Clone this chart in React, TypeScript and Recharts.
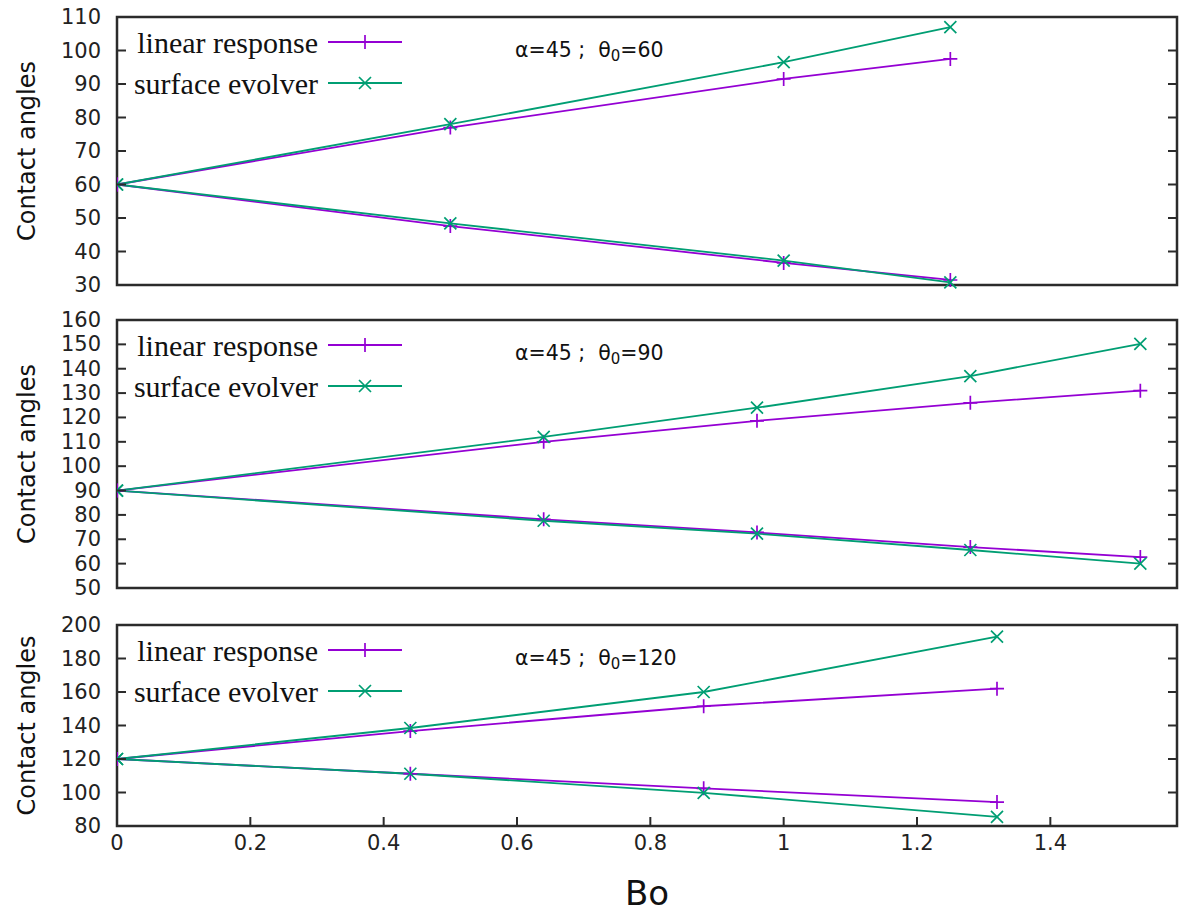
import { LineChart, Line, XAxis, YAxis, ReferenceArea, Legend } from 'recharts'

const PURPLE = '#9400d3'
const GREEN = '#009e73'
const AXIS = '#2b2b2b'
const TICK_FONT = '"DejaVu Sans", sans-serif'
const KEY_FONT = '"Liberation Serif", serif'

const W = 1179
const PLOT_L = 117
const PLOT_R = 1177
const XMAX = 1.59

// Bo axis
const boTicks = [0, 0.2, 0.4, 0.6, 0.8, 1, 1.2, 1.4]
const keyNames = ['linear response', 'surface evolver']

// theta0 = 60
const bo60 = [0, 0.5, 1.0, 1.25]
const lrUp60 = [60, 77, 91.5, 97.5]
const seUp60 = [60, 78, 96.5, 107]
const lrLo60 = [60, 47.6, 36.6, 31.5]
const seLo60 = [60, 48.4, 37.3, 30.8]
const ticks60 = [30, 40, 50, 60, 70, 80, 90, 100, 110]

// theta0 = 90
const bo90 = [0, 0.64, 0.96, 1.28, 1.535]
const lrUp90 = [90, 110, 118.6, 126, 131]
const seUp90 = [90, 112, 124, 137, 150.2]
const lrLo90 = [90, 78.2, 72.8, 66.8, 62.7]
const seLo90 = [90, 77.6, 72.3, 65.6, 60]
const ticks90 = [50, 60, 70, 80, 90, 100, 110, 120, 130, 140, 150, 160]

// theta0 = 120
const bo120 = [0, 0.44, 0.88, 1.32]
const lrUp120 = [120, 136.7, 151.5, 162]
const seUp120 = [120, 138.5, 160, 193]
const lrLo120 = [120, 111.2, 102.5, 94.3]
const seLo120 = [120, 111.2, 99.8, 85.5]
const ticks120 = [80, 100, 120, 140, 160, 180, 200]

const pts = (xs: number[], ys: number[]) => xs.map((x, i) => ({ x, y: ys[i] }))

const plusDot = (color: string) => (p: any) => {
  const { cx, cy, index } = p
  if (cx == null || cy == null) return <g key={index} />
  return (
    <path
      key={index}
      d={`M${cx - 7},${cy}H${cx + 7}M${cx},${cy - 7}V${cy + 7}`}
      stroke={color}
      strokeWidth={1.7}
      fill="none"
    />
  )
}

const crossDot = (color: string) => (p: any) => {
  const { cx, cy, index } = p
  if (cx == null || cy == null) return <g key={index} />
  return (
    <path
      key={index}
      d={`M${cx - 6},${cy - 6}L${cx + 6},${cy + 6}M${cx - 6},${cy + 6}L${cx + 6},${cy - 6}`}
      stroke={color}
      strokeWidth={1.7}
      fill="none"
    />
  )
}

interface PanelProps {
  top: number
  height: number
  marginTop: number
  marginBottom: number
  bo: number[]
  lrUp: number[]
  seUp: number[]
  lrLo: number[]
  seLo: number[]
  yTicks: number[]
  theta: string
  showX?: boolean
}

function Panel({ top, height, marginTop, marginBottom, bo, lrUp, seUp, lrLo, seLo, yTicks, theta, showX }: PanelProps) {
  const ymin = yTicks[0]
  const ymax = yTicks[yTicks.length - 1]
  const xAxisH = showX ? 85 : 0
  const plotBottom = height - marginBottom - xAxisH

  const yTick = (p: any) => {
    const { y, payload } = p
    return (
      <g>
        <line x1={PLOT_L} x2={PLOT_L + 9} y1={y} y2={y} stroke={AXIS} strokeWidth={2} />
        <line x1={PLOT_R - 9} x2={PLOT_R} y1={y} y2={y} stroke={AXIS} strokeWidth={2} />
        <text x={PLOT_L - 16} y={y} textAnchor="end" dominantBaseline="central" fontSize={21} fontFamily={TICK_FONT} fill="#222">
          {payload.value}
        </text>
      </g>
    )
  }

  const xTick = (p: any) => {
    const { x, payload } = p
    return (
      <g>
        <line x1={x} x2={x} y1={plotBottom} y2={plotBottom - 9} stroke={AXIS} strokeWidth={2} />
        <text x={x} y={plotBottom + 17} textAnchor="middle" dominantBaseline="central" fontSize={21} fontFamily={TICK_FONT} fill="#222">
          {payload.value}
        </text>
      </g>
    )
  }

  const renderKey = (props: any) => {
    const rows = ((props.payload || []) as any[]).filter((r) => keyNames.includes(r.value))
    return (
      <svg width={420} height={90} style={{ display: 'block' }}>
        {rows.map((r, i) => {
          const cy = 25 + i * 41
          const dot = r.value === keyNames[0] ? plusDot(r.color) : crossDot(r.color)
          return (
            <g key={r.value}>
              <text x={318} y={cy} textAnchor="end" dominantBaseline="central" fontSize={30} fontFamily={KEY_FONT} fill="#111">
                {r.value}
              </text>
              <line x1={328} x2={402} y1={cy} y2={cy} stroke={r.color} strokeWidth={1.8} />
              {dot({ cx: 365, cy, index: i })}
            </g>
          )
        })}
      </svg>
    )
  }

  return (
    <div style={{ position: 'absolute', left: 0, top, width: W, height }}>
      <LineChart width={W} height={height} margin={{ top: marginTop, right: W - PLOT_R, bottom: marginBottom, left: 0 }}>
        <XAxis
          type="number"
          dataKey="x"
          domain={[0, XMAX]}
          ticks={boTicks}
          allowDataOverflow
          hide={!showX}
          height={xAxisH}
          axisLine={false}
          tickLine={false}
          tick={xTick}
          label={{
            content: (lp: any) => {
              const vb = lp.viewBox || {}
              return (
                <text x={vb.x + vb.width / 2} y={plotBottom + 67} textAnchor="middle" dominantBaseline="central" fontSize={34} fontFamily={TICK_FONT} fill="#111">
                  Bo
                </text>
              )
            },
          }}
        />
        <YAxis
          type="number"
          domain={[ymin, ymax]}
          ticks={yTicks}
          width={PLOT_L}
          axisLine={false}
          tickLine={false}
          tick={yTick}
          label={{
            content: (lp: any) => {
              const vb = lp.viewBox || {}
              const cy = vb.y + vb.height / 2
              return (
                <text x={27} y={cy} transform={`rotate(-90 27 ${cy})`} textAnchor="middle" dominantBaseline="central" fontSize={24} fontFamily={TICK_FONT} fill="#111">
                  Contact angles
                </text>
              )
            },
          }}
        />
        <ReferenceArea x1={0} x2={XMAX} y1={ymin} y2={ymax} fill="none" stroke={AXIS} strokeWidth={2.5} ifOverflow="visible" />
        <Legend
          layout="horizontal"
          verticalAlign="middle"
          align="center"
          content={renderKey}
          wrapperStyle={{ left: 0, top: marginTop, width: 420, height: 90 }}
        />
        <Line data={pts(bo, lrLo)} dataKey="y" name="lr-low" legendType="none" stroke={PURPLE} strokeWidth={1.8} dot={plusDot(PURPLE)} isAnimationActive={false} />
        <Line data={pts(bo, seLo)} dataKey="y" name="se-low" legendType="none" stroke={GREEN} strokeWidth={1.8} dot={crossDot(GREEN)} isAnimationActive={false} />
        <Line data={pts(bo, lrUp)} dataKey="y" name="linear response" stroke={PURPLE} strokeWidth={1.8} dot={plusDot(PURPLE)} isAnimationActive={false} />
        <Line data={pts(bo, seUp)} dataKey="y" name="surface evolver" stroke={GREEN} strokeWidth={1.8} dot={crossDot(GREEN)} isAnimationActive={false} />
        <text x={515} y={marginTop + 33} dominantBaseline="central" fontSize={20.5} fontFamily={TICK_FONT} fill="#111" style={{ whiteSpace: 'pre' }}>
          {'α=45 ;  θ'}
          <tspan dy={6} fontSize={15}>0</tspan>
          <tspan dy={-6}>{'=' + theta}</tspan>
        </text>
      </LineChart>
    </div>
  )
}

export default function App() {
  return (
    <div style={{ position: 'absolute', left: 0, top: 0, width: W, height: 911, background: '#fff' }}>
      <Panel top={0} height={300} marginTop={17} marginBottom={15} bo={bo60} lrUp={lrUp60} seUp={seUp60} lrLo={lrLo60} seLo={seLo60} yTicks={ticks60} theta="60" />
      <Panel top={300} height={300} marginTop={20} marginBottom={12} bo={bo90} lrUp={lrUp90} seUp={seUp90} lrLo={lrLo90} seLo={seLo90} yTicks={ticks90} theta="90" />
      <Panel top={600} height={311} marginTop={25} marginBottom={0} bo={bo120} lrUp={lrUp120} seUp={seUp120} lrLo={lrLo120} seLo={seLo120} yTicks={ticks120} theta="120" showX />
    </div>
  )
}
